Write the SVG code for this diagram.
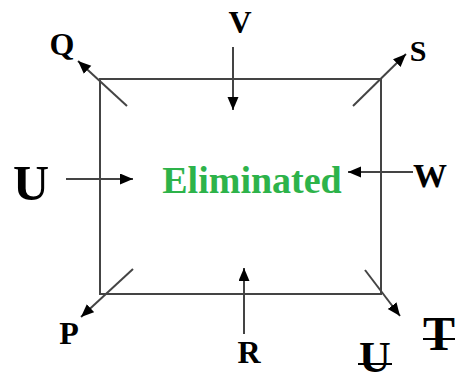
<svg xmlns="http://www.w3.org/2000/svg" width="462" height="382" viewBox="0 0 462 382">
<style>
.lbl{font-family:"Liberation Serif","Times New Roman",serif;font-weight:bold;fill:#000;text-anchor:middle}
.con{stroke:#444;stroke-width:2;fill:none}
.box{stroke:#444;stroke-width:2;fill:none}
.strike{stroke:#000;stroke-width:2}
</style>
<defs>
<marker id="ah" markerUnits="userSpaceOnUse" markerWidth="14" markerHeight="12" refX="13" refY="5.5" orient="auto">
<path d="M0,0 L13,5.5 L0,11 z" fill="#000"/>
</marker>
</defs>
<g id="box"><rect class="box" x="100" y="79" width="281" height="215"/></g>
<g id="center"><text class="lbl" x="252" y="193" font-size="38" style="fill:#2db34a">Eliminated</text></g>
<g id="Q"><text class="lbl" x="62" y="55" font-size="32">Q</text></g>
<g id="S"><text class="lbl" x="418" y="61" font-size="30">S</text></g>
<g id="V"><text class="lbl" x="240" y="33" font-size="32">V</text></g>
<g id="U"><text class="lbl" x="31" y="200" font-size="50">U</text></g>
<g id="W"><text class="lbl" x="430" y="187" font-size="34">W</text></g>
<g id="P"><text class="lbl" x="69" y="344" font-size="32">P</text></g>
<g id="R"><text class="lbl" x="249" y="363" font-size="32">R</text></g>
<g id="T"><text class="lbl" x="439" y="350" font-size="48">T</text><line class="strike" x1="423" y1="339" x2="455" y2="339"/></g>
<g id="U2"><text class="lbl" x="375" y="372" font-size="44">U</text><line class="strike" x1="358" y1="364" x2="392" y2="364"/></g>
<g id="connectors">
<line class="con" x1="127" y1="106" x2="78" y2="61" marker-end="url(#ah)"/>
<line class="con" x1="353" y1="106" x2="406" y2="54" marker-end="url(#ah)"/>
<line class="con" x1="133" y1="269" x2="81" y2="317" marker-end="url(#ah)"/>
<line class="con" x1="365" y1="270" x2="400" y2="316" marker-end="url(#ah)"/>
<line class="con" x1="244" y1="334" x2="244" y2="268" marker-end="url(#ah)"/>
<line class="con" x1="233" y1="47" x2="233" y2="110" marker-end="url(#ah)"/>
<line class="con" x1="66" y1="179" x2="133" y2="179" marker-end="url(#ah)"/>
<line class="con" x1="413" y1="172" x2="348" y2="172" marker-end="url(#ah)"/>
</g>
</svg>
